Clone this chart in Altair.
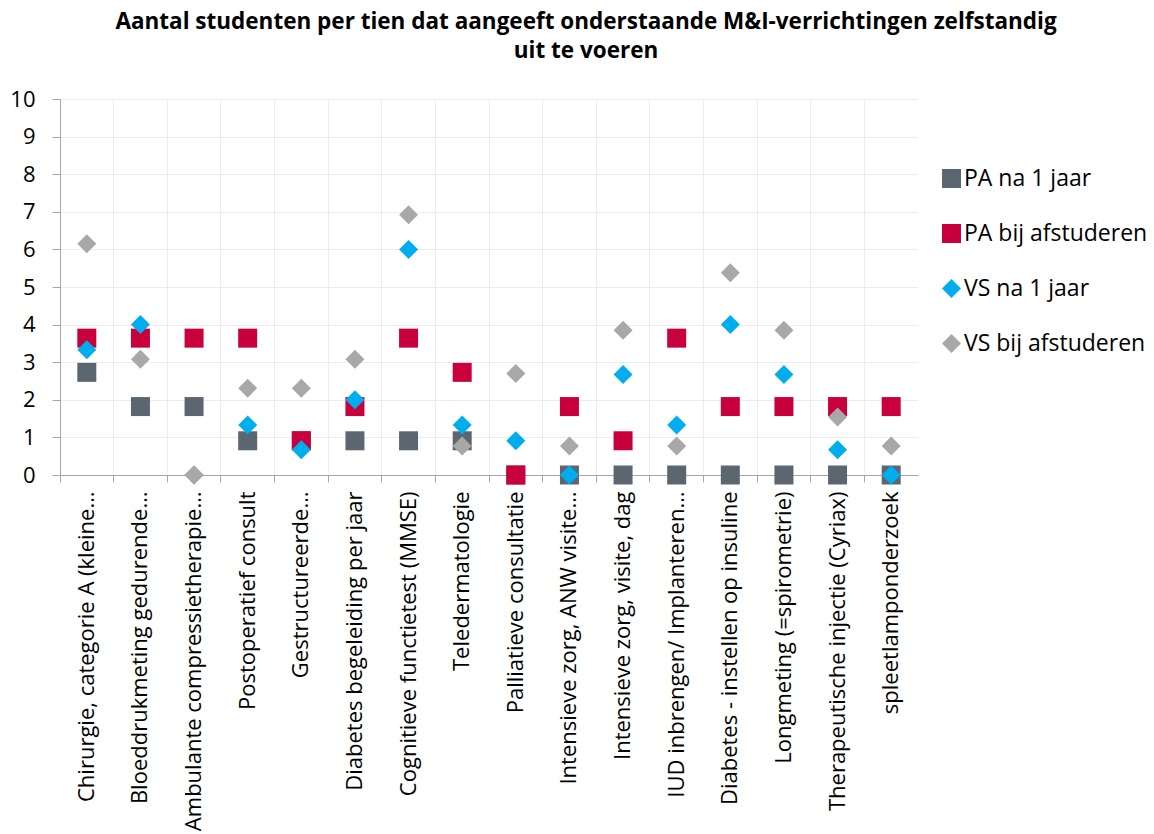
import altair as alt
import pandas as pd

categories = [
    "Chirurgie, categorie A (kleine…",
    "Bloeddrukmeting gedurende…",
    "Ambulante compressietherapie…",
    "Postoperatief consult",
    "Gestructureerde…",
    "Diabetes begeleiding per jaar",
    "Cognitieve functietest (MMSE)",
    "Teledermatologie",
    "Palliatieve consultatie",
    "Intensieve zorg, ANW visite…",
    "Intensieve zorg, visite, dag",
    "IUD inbrengen/ Implanteren…",
    "Diabetes - instellen op insuline",
    "Longmeting (=spirometrie)",
    "Therapeutische injectie (Cyriax)",
    "spleetlamponderzoek",
]

series_names = ["PA na 1 jaar", "PA bij afstuderen", "VS na 1 jaar", "VS bij afstuderen"]

pa_na_1_jaar = [2.73, 1.82, 1.82, 0.91, 0.91, 0.91, 0.91, 0.91, 0, 0, 0, 0, 0, 0, 0, 0]
pa_bij_afstuderen = [3.64, 3.64, 3.64, 3.64, 0.91, 1.82, 3.64, 2.73, 0, 1.82, 0.91, 3.64, 1.82, 1.82, 1.82, 1.82]
vs_na_1_jaar = [3.33, 4.0, 0, 1.33, 0.67, 2.0, 6.0, 1.33, 0.91, 0, 2.67, 1.33, 4.0, 2.67, 0.67, 0]
vs_bij_afstuderen = [6.15, 3.08, 0, 2.31, 2.31, 3.08, 6.92, 0.77, 2.7, 0.77, 3.85, 0.77, 5.38, 3.85, 1.54, 0.77]
y_ticks = [0, 1, 2, 3, 4, 5, 6, 7, 8, 9, 10]

colors = ["#5B6670", "#C8003C", "#00AEEF", "#AAA7A7"]
shapes = ["square", "square", "diamond", "diamond"]

rows = []
for si, (name, vals) in enumerate(zip(series_names,
                                       [pa_na_1_jaar, pa_bij_afstuderen, vs_na_1_jaar, vs_bij_afstuderen])):
    for cat, v in zip(categories, vals):
        rows.append({"cat": cat, "series": name, "value": v, "ord": si})
df = pd.DataFrame(rows)

FONT = "Open Sans"

xscale = alt.Scale(domain=categories, type="band", paddingInner=0, paddingOuter=0)
yenc = alt.Y("value:Q", title=None,
             scale=alt.Scale(domain=[0, 10], nice=False),
             axis=alt.Axis(values=y_ticks, tickCount=11, tickSize=8, labelPadding=17,
                           labelFontSize=22, labelFont=FONT, labelColor="#000000",
                           domainColor="#A6A6A6", tickColor="#A6A6A6", gridColor="#ECECEC",
                           labelOverlap=False))

grid_layer = alt.Chart(df).mark_point(opacity=0).encode(
    x=alt.X("cat:N", sort=categories, scale=xscale, title=None,
            axis=alt.Axis(orient="bottom", bandPosition=0, labels=False, grid=True, ticks=True,
                          tickSize=7, domain=True, domainColor="#A6A6A6", tickColor="#A6A6A6",
                          gridColor="#ECECEC")),
    y=yenc,
)

points = alt.Chart(df).mark_point(filled=True, opacity=1, strokeWidth=0).encode(
    x=alt.X("cat:N", sort=categories, scale=xscale, title=None,
            axis=alt.Axis(orient="bottom", labelAngle=-90, labelFontSize=22, labelFont=FONT,
                          labelColor="#000000", labelPadding=16, ticks=False, grid=False,
                          domain=False, labelLimit=400, labelOverlap=False)),
    y=yenc,
    color=alt.Color("series:N", sort=series_names,
                    scale=alt.Scale(domain=series_names, range=colors),
                    legend=alt.Legend(title=None, orient="none", legendX=880, legendY=68,
                                      labelFontSize=23, labelFont=FONT, labelColor="#000000",
                                      symbolSize=280, rowPadding=31, labelOffset=1,
                                      labelLimit=300, symbolStrokeWidth=0)),
    shape=alt.Shape("series:N", sort=series_names,
                    scale=alt.Scale(domain=series_names, range=shapes)),
    size=alt.Size("series:N", scale=alt.Scale(domain=series_names, range=[361, 361, 340, 340]),
                  legend=None),
    order=alt.Order("ord:Q"),
)

chart = alt.layer(grid_layer, points).resolve_axis(x="independent").properties(
    width=858, height=376,
    title=alt.TitleParams(
        text=["Aantal studenten per tien dat aangeeft onderstaande M&I-verrichtingen zelfstandig",
              "uit te voeren"],
        font=FONT, fontSize=22.5, fontWeight="bold", color="#000000", anchor="middle",
        dx=97, offset=26, lineHeight=29),
    autosize=alt.AutoSizeParams(type="none"),
    padding={"left": 52, "top": 91, "right": 228, "bottom": 358},
).configure_view(stroke=None)

chart.save("out.html", embed_options={"renderer": "svg", "actions": False})
